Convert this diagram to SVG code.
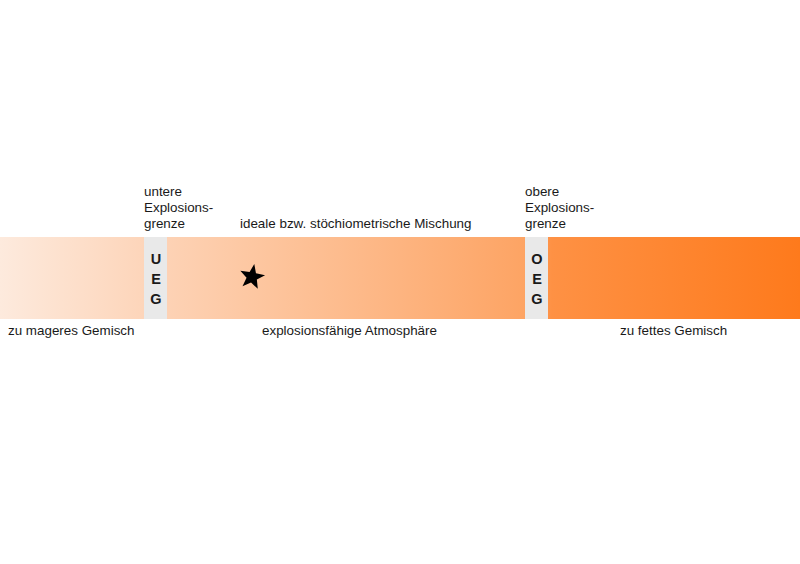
<svg xmlns="http://www.w3.org/2000/svg" width="800" height="564" viewBox="0 0 800 564">
<defs>
<linearGradient id="g" x1="0" y1="0" x2="800" y2="0" gradientUnits="userSpaceOnUse">
<stop offset="0" stop-color="#fdeadd"/>
<stop offset="0.18" stop-color="#fdd5ba"/>
<stop offset="0.655" stop-color="#fda464"/>
<stop offset="0.69" stop-color="#fe9144"/>
<stop offset="1" stop-color="#fe7a1c"/>
</linearGradient>
<style>
text{font-family:"Liberation Sans",Arial,sans-serif;font-size:13.4px;fill:#1a1a1a}
.b{font-weight:bold;font-size:14.5px;text-anchor:middle}
.strip{fill:#e9e9e9}
</style>
</defs>
<rect id="band" x="0" y="237" width="800" height="82" fill="url(#g)"/>
<g id="ueg">
<rect class="strip" x="144" y="237" width="23" height="82"/>
<text class="b" x="156" y="264">U</text>
<text class="b" x="156" y="284">E</text>
<text class="b" x="156" y="304">G</text>
<text x="144" y="196">untere</text>
<text x="144" y="212">Explosions-</text>
<text x="144" y="228">grenze</text>
</g>
<g id="oeg">
<rect class="strip" x="525" y="237" width="23" height="82"/>
<text class="b" x="537" y="264">O</text>
<text class="b" x="537" y="284">E</text>
<text class="b" x="537" y="304">G</text>
<text x="525" y="196">obere</text>
<text x="525" y="212">Explosions-</text>
<text x="525" y="228">grenze</text>
</g>
<g id="ideal">
<polygon points="254.08,265.18 255.60,273.53 263.88,275.33 256.41,279.35 257.26,287.79 251.13,281.92 243.37,285.34 247.05,277.70 241.40,271.37 249.81,272.51" fill="#000" transform="translate(252 277) scale(1.1) translate(-252 -277)"/>
<text x="240" y="228">ideale bzw. stöchiometrische Mischung</text>
</g>
<g id="labels">
<text x="8" y="335">zu mageres Gemisch</text>
<text x="262" y="335">explosionsfähige Atmosphäre</text>
<text x="620" y="335">zu fettes Gemisch</text>
</g>
<g id="connectors"/>
</svg>
